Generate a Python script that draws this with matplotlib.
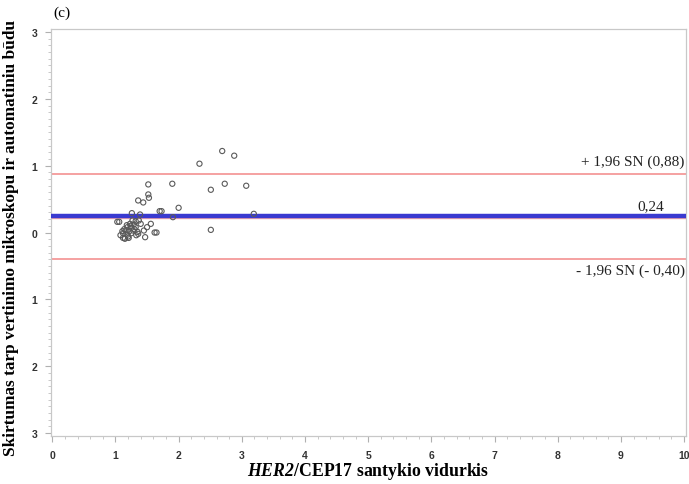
import matplotlib
matplotlib.use("Agg")
import matplotlib.pyplot as plt
from matplotlib.ticker import MultipleLocator, FuncFormatter

plt.rcParams["mathtext.fontset"] = "custom"
plt.rcParams["mathtext.bfit"] = "Liberation Serif:italic:bold"
plt.rcParams["mathtext.bf"] = "Liberation Serif:bold"
plt.rcParams["mathtext.rm"] = "Liberation Serif"

# Data: mean HER2/CEP17 ratio (x) and difference (y)
mean_ratio = [2.69, 2.88, 2.33, 1.52, 1.90, 2.51, 2.73, 3.07, 1.52, 1.53,
              1.36, 1.44, 2.00, 1.70, 1.73, 1.26, 1.39, 1.91, 3.19, 2.51,
              1.03, 1.06, 1.56, 1.50, 1.45, 1.36, 1.47, 1.62, 1.65, 1.15,
              1.12, 1.27, 1.32, 1.37, 1.23, 1.29, 1.40, 1.19, 1.25, 1.32,
              1.16, 1.22, 1.28, 1.12, 1.19, 1.25, 1.15, 1.21, 1.08, 1.11,
              1.35, 1.33, 1.18, 1.24, 1.30, 1.14, 1.20]
difference = [1.22, 1.15, 1.03, 0.72, 0.73, 0.64, 0.73, 0.70, 0.57, 0.52,
              0.48, 0.45, 0.37, 0.32, 0.32, 0.29, 0.27, 0.23, 0.28, 0.04,
              0.16, 0.16, 0.13, 0.08, 0.03, -0.02, -0.07, 0.00, 0.00, -0.09,
              -0.08, 0.18, 0.17, 0.18, 0.13, 0.12, 0.13, 0.08, 0.07, 0.08,
              0.03, 0.02, 0.03, -0.01, -0.03, -0.01, -0.09, -0.08, -0.04, 0.02,
              0.01, -0.04, 0.11, 0.10, 0.05, 0.05, -0.06]

bias = 0.24
upper_loa = 0.88
lower_loa = -0.40
upper_label = "+ 1,96 SN (0,88)"
bias_label = "0,24"
lower_label = "- 1,96 SN (- 0,40)"

serif = ["Liberation Serif", "DejaVu Serif"]
sans = ["Liberation Sans", "DejaVu Sans"]

fig = plt.figure(figsize=(6.89, 4.85), dpi=100)
ax = fig.add_axes([0.074, 0.099, 0.9216, 0.839])

ax.axhline(upper_loa, color="#f59a9a", lw=1.3, zorder=2)
ax.axhline(lower_loa, color="#f59a9a", lw=1.3, zorder=2)
ax.axhline(bias - 0.025, color="#f5a8a8", lw=1.0, zorder=2)
ax.axhline(bias, color="#3a3ad0", lw=3.2, zorder=3)

ax.scatter(mean_ratio, difference, s=14, facecolors="none",
           edgecolors="#5a5a5a", linewidths=0.8, zorder=4)

ax.set_xlim(-0.02, 10.03)
ax.set_ylim(-3.045, 3.045)
ax.xaxis.set_major_locator(MultipleLocator(1))
ax.xaxis.set_minor_locator(MultipleLocator(0.2))
ax.yaxis.set_major_locator(MultipleLocator(1))
ax.yaxis.set_minor_locator(MultipleLocator(0.1))
ax.yaxis.set_major_formatter(FuncFormatter(lambda v, p: f"{abs(v):.0f}"))
ax.xaxis.set_major_formatter(FuncFormatter(lambda v, p: f"{v:.0f}"))

for sp in ax.spines.values():
    sp.set_color("#c8c8c8")
    sp.set_linewidth(0.9)
ax.tick_params(which="major", length=4, color="#b0b0b0", width=0.8,
               labelsize=7.5, labelcolor="#333333", pad=6)
ax.tick_params(which="minor", length=2.5, color="#c0c0c0", width=0.6)
for lbl in ax.get_xticklabels() + ax.get_yticklabels():
    lbl.set_fontweight("bold")
    lbl.set_family(sans)

txt_kw = dict(transform=ax.get_yaxis_transform(), ha="right",
              fontsize=11, family=serif, color="#222222")
ax.text(0.998, upper_loa + 0.09, upper_label, va="bottom", **txt_kw)
ax.text(0.965, bias + 0.06, bias_label, va="bottom", **txt_kw)
ax.text(0.998, lower_loa - 0.06, lower_label, va="top", **txt_kw)

fig.text(0.078, 0.972, "(c)", fontsize=11, family=serif, va="center", ha="left")

ax.set_ylabel("Skirtumas tarp vertinimo mikroskopu ir automatiniu būdu",
              fontsize=12.4, family=serif, fontweight="bold")
ax.yaxis.set_label_coords(-0.051, 0.49)
ax.set_xlabel(r"$\mathbfit{HER2}$/CEP17 santykio vidurkis",
              fontsize=12.8, family=serif, fontweight="bold")
ax.xaxis.set_label_coords(0.5, -0.06)

fig.savefig("out.png", dpi=100)
